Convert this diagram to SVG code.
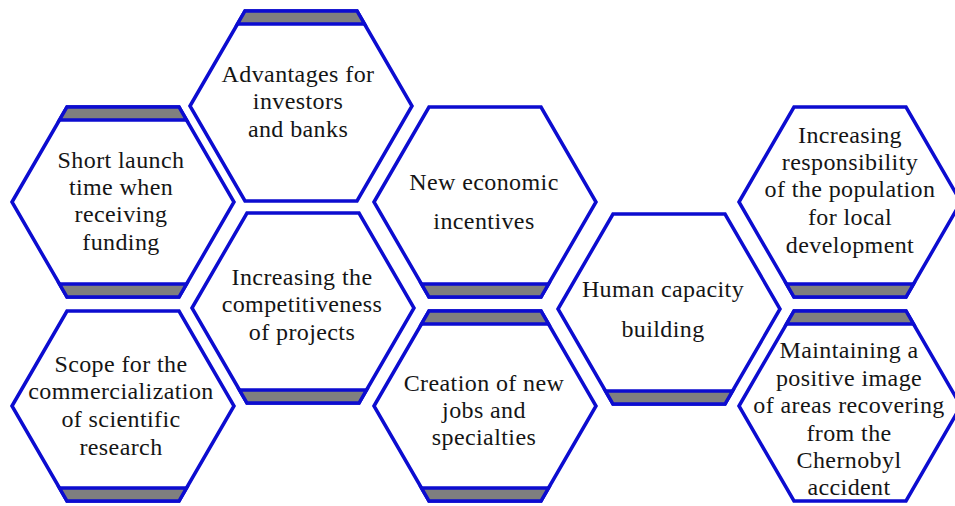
<svg xmlns="http://www.w3.org/2000/svg" width="955" height="506" viewBox="0 0 955 506">
<defs>
<style>
.hex{fill:#fff;stroke:#0c0cd0;stroke-width:3.5;stroke-linejoin:miter}
.bar{fill:#7f7f7f;stroke:#0c0cd0;stroke-width:3.5}
.t{font-family:"Liberation Serif","Times New Roman",serif;font-size:24px;letter-spacing:0.4px;fill:#151515;text-anchor:middle}
</style>
<polygon id="h" points="-111,0 -56,-95 56,-95 111,0 56,95 -56,95"/>
<polygon id="bt" points="-56,-95 56,-95 63.5,-82 -63.5,-82"/>
<polygon id="bb" points="-56,95 56,95 63.5,82 -63.5,82"/>
</defs>
<rect width="955" height="506" fill="#fff"/>
<g id="connectors"></g>

<g id="short-launch">
<use href="#h" class="hex" x="123" y="202"/>
<use href="#bt" class="bar" x="123" y="202"/>
<use href="#bb" class="bar" x="123" y="202"/>
<text class="t"><tspan x="121" y="168">Short launch</tspan><tspan x="121" y="195">time when</tspan><tspan x="121" y="222">receiving</tspan><tspan x="121" y="250">funding</tspan></text>
</g>

<g id="scope">
<use href="#h" class="hex" x="123" y="406"/>
<use href="#bb" class="bar" x="123" y="406"/>
<text class="t"><tspan x="121" y="372">Scope for the</tspan><tspan x="121" y="399">commercialization</tspan><tspan x="121" y="427">of scientific</tspan><tspan x="121" y="455">research</tspan></text>
</g>

<g id="advantages">
<use href="#h" class="hex" x="301" y="106"/>
<use href="#bt" class="bar" x="301" y="106"/>
<text class="t"><tspan x="298" y="82">Advantages for</tspan><tspan x="298" y="109">investors</tspan><tspan x="298" y="137">and banks</tspan></text>
</g>

<g id="competitiveness">
<use href="#h" class="hex" x="303" y="308"/>
<use href="#bb" class="bar" x="303" y="308"/>
<text class="t"><tspan x="302" y="285">Increasing the</tspan><tspan x="302" y="312">competitiveness</tspan><tspan x="302" y="340">of projects</tspan></text>
</g>

<g id="economic-incentives">
<use href="#h" class="hex" x="485" y="202"/>
<use href="#bb" class="bar" x="485" y="202"/>
<text class="t"><tspan x="484" y="190">New economic</tspan><tspan x="484" y="229">incentives</tspan></text>
</g>

<g id="new-jobs">
<use href="#h" class="hex" x="485" y="406"/>
<use href="#bt" class="bar" x="485" y="406"/>
<use href="#bb" class="bar" x="485" y="406"/>
<text class="t"><tspan x="484" y="391">Creation of new</tspan><tspan x="484" y="418">jobs and</tspan><tspan x="484" y="445">specialties</tspan></text>
</g>

<g id="human-capacity">
<use href="#h" class="hex" x="669" y="309"/>
<use href="#bb" class="bar" x="669" y="309"/>
<text class="t"><tspan x="663" y="297">Human capacity</tspan><tspan x="663" y="337">building</tspan></text>
</g>

<g id="responsibility">
<use href="#h" class="hex" x="850" y="202"/>
<use href="#bb" class="bar" x="850" y="202"/>
<text class="t"><tspan x="850" y="143">Increasing</tspan><tspan x="850" y="170">responsibility</tspan><tspan x="850" y="197">of the population</tspan><tspan x="850" y="225">for local</tspan><tspan x="850" y="253">development</tspan></text>
</g>

<g id="positive-image">
<use href="#h" class="hex" x="850" y="406"/>
<use href="#bt" class="bar" x="850" y="406"/>
<text class="t"><tspan x="849" y="358">Maintaining a</tspan><tspan x="849" y="386">positive image</tspan><tspan x="849" y="413">of areas recovering</tspan><tspan x="849" y="441">from the</tspan><tspan x="849" y="468">Chernobyl</tspan><tspan x="849" y="495">accident</tspan></text>
</g>
</svg>
